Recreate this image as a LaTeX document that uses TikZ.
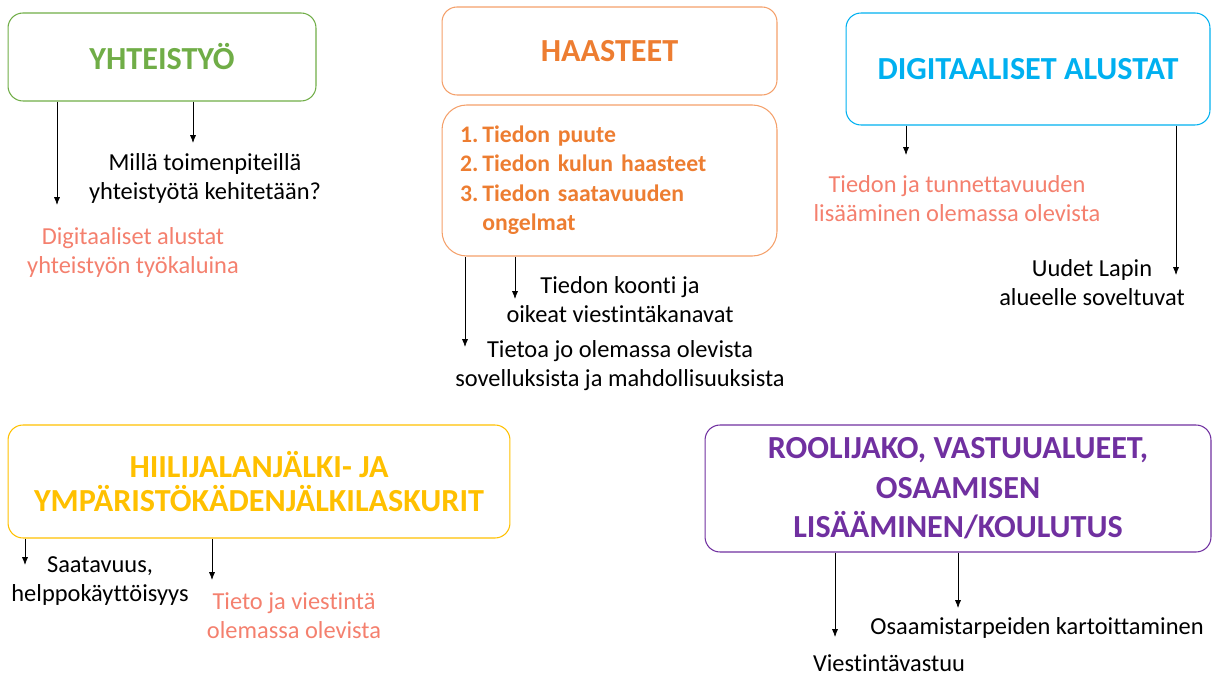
\documentclass[tikz,border=0pt]{standalone}
\usepackage{fontspec}
\setmainfont{Carlito}[Ligatures=NoCommon]
\usepackage{tikz}
\usetikzlibrary{positioning}
\usetikzlibrary{arrows.meta}
\usetikzlibrary{calc}

\definecolor{yhtgreen}{HTML}{70AD47}
\definecolor{haaorange}{HTML}{ED7D31}
\definecolor{haaline}{HTML}{F4A06A}
\definecolor{digicyan}{HTML}{00B0F0}
\definecolor{hiiyellow}{HTML}{FFC000}
\definecolor{roolpurple}{HTML}{7030A0}
\definecolor{salmon}{HTML}{F4806E}

\tikzset{
  box/.style={draw=#1, text=#1, rounded corners=8.5pt, line width=0.6pt,
    align=center, font=\bfseries\fontsize{18.3}{21}\selectfont},
  note/.style={align=center, font=\fontsize{13.9}{16.5}\selectfont},
  arr/.style={-{Latex[length=4.5pt,width=3.5pt]}, line width=0.4pt},
}

\begin{document}
\begin{tikzpicture}[x=0.02cm, y=-0.02cm]
\useasboundingbox (0,0) rectangle (1212,675);

% boxes
\node[box=yhtgreen, minimum width=6.16cm, minimum height=1.76cm] (yht) at (162,57) {YHTEISTYÖ};
\node[box=haaorange, draw=haaline, minimum width=6.7cm, minimum height=1.76cm] (haa) at (609.5,51) {HAASTEET};
\node[box=haaorange, draw=haaline, rounded corners=14pt, minimum width=6.7cm, minimum height=3.02cm,
  text width=5.98cm, inner xsep=0.36cm, align=left, font=\bfseries\fontsize{13.5}{16.8}\selectfont] (list) at (609.5,180.5)
  {\raisebox{-1.7pt}{\begin{tabular}{@{}l@{\,}l@{}}
   1. & Tiedon puute\\
   2. & Tiedon kulun haasteet\\
   3. & Tiedon saatavuuden\\
      & ongelmat
   \end{tabular}}};
\node[box=digicyan, minimum width=7.28cm, minimum height=2.24cm] (digi) at (1028,69) {DIGITAALISET ALUSTAT};
\node[box=hiiyellow, minimum width=10.04cm, minimum height=2.26cm,
  font=\bfseries\fontsize{18.3}{19.3}\selectfont] (hii) at (259,481.5) {HIILIJALANJÄLKI- JA\\YMPÄRISTÖKÄDENJÄLKILASKURIT};
\node[box=roolpurple, minimum width=10.12cm, minimum height=2.54cm,
  font=\bfseries\fontsize{18.3}{22.5}\selectfont] (rool) at (958,488.5) {ROOLIJAKO, VASTUUALUEET,\\OSAAMISEN\\LISÄÄMINEN/KOULUTUS};

% texts
\node[note] (t11) at (205,178) {Millä toimenpiteillä\\yhteistyötä kehitetään?};
\node[note, text=salmon] (t12) at (133,252) {Digitaaliset alustat\\yhteistyön työkaluina};
\node[note] (t21) at (620,300) {Tiedon koonti ja\\oikeat viestintäkanavat};
\node[note] (t22) at (620,366) {Tietoa jo olemassa olevista\\sovelluksista ja mahdollisuuksista};
\node[note, text=salmon] (t31) at (957,199) {Tiedon ja tunnettavuuden\\lisääminen olemassa olevista};
\node[note] (t32) at (1092,283) {Uudet Lapin\\alueelle soveltuvat};
\node[note] (t41) at (100,581) {Saatavuus,\\helppokäyttöisyys};
\node[note, text=salmon] (t42) at (294,616) {Tieto ja viestintä\\olemassa olevista};
\node[note] (t51) at (1037,628) {Osaamistarpeiden kartoittaminen};
\node[note] (t52) at (889,663) {Viestintävastuu};

% arrow ends
\coordinate (e11) at (193,143);
\coordinate (e12) at (57,205);
\coordinate (e21) at (515,299);
\coordinate (e22) at (465,347);
\coordinate (e31) at (906,155);
\coordinate (e32) at (1176,275);
\coordinate (e41) at (25,565);
\coordinate (e42) at (212,580);
\coordinate (e51) at (958,608);
\coordinate (e52) at (835,637);

\draw[arr] (yht.south -| e11) -- (e11);
\draw[arr] (yht.south -| e12) -- (e12);
\draw[arr] (list.south -| e21) -- (e21);
\draw[arr] (list.south -| e22) -- (e22);
\draw[arr] (digi.south -| e31) -- (e31);
\draw[arr] (digi.south -| e32) -- (e32);
\draw[arr] (hii.south -| e41) -- (e41);
\draw[arr] (hii.south -| e42) -- (e42);
\draw[arr] (rool.south -| e51) -- (e51);
\draw[arr] (rool.south -| e52) -- (e52);
\end{tikzpicture}
\end{document}
